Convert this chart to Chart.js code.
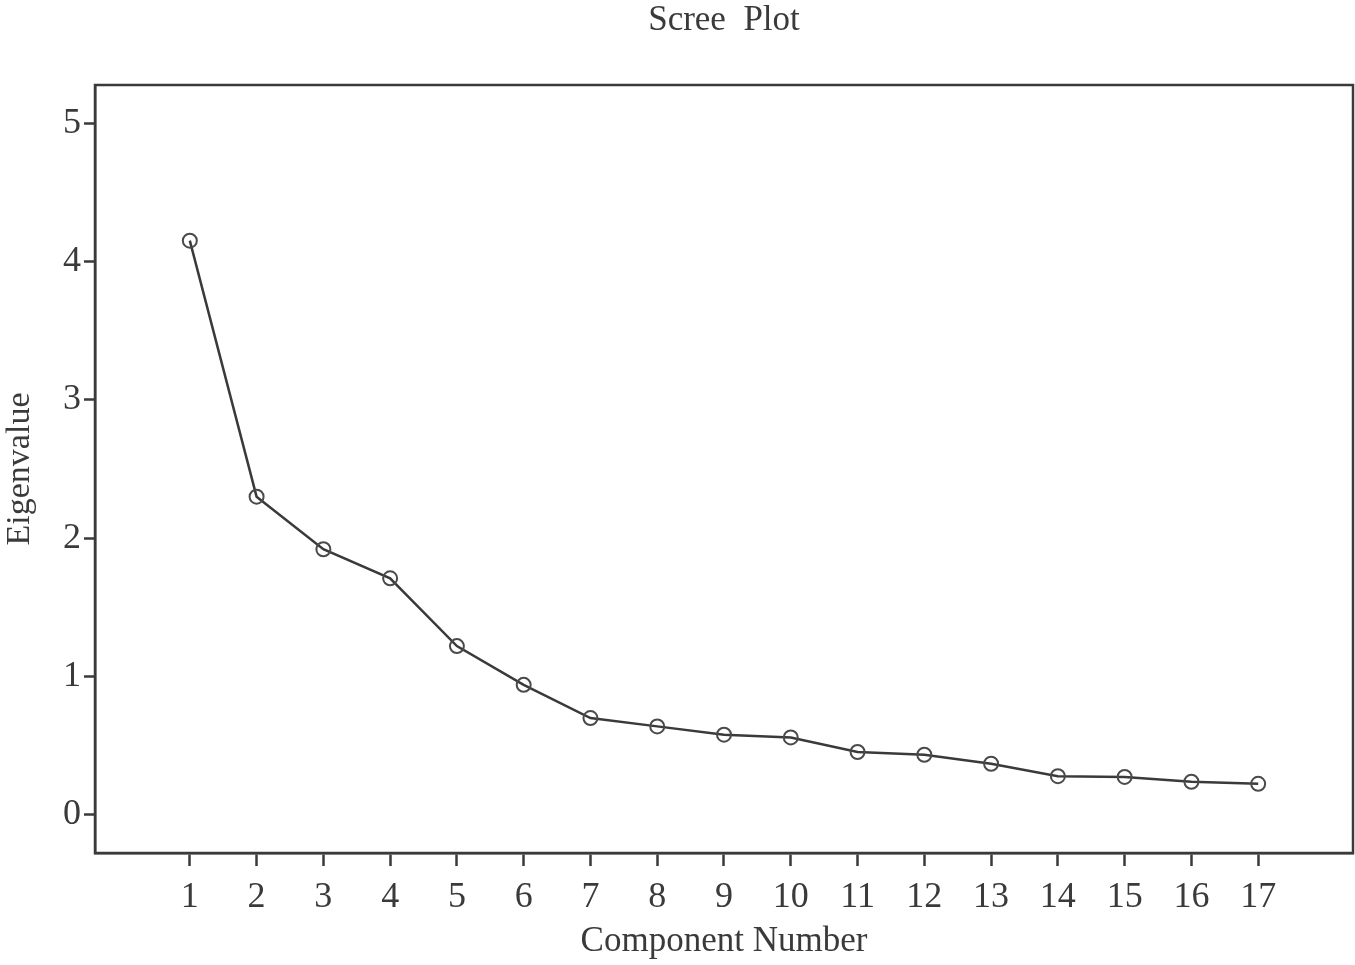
<!DOCTYPE html>
<html>
<head>
<meta charset="utf-8">
<script src="https://cdn.jsdelivr.net/npm/chart.js@4/dist/chart.umd.min.js"></script>
<style>
  html, body { margin: 0; padding: 0; background: #fff; }
  #wrap { width: 1355px; height: 965px; }
</style>
</head>
<body>
<div id="wrap"><canvas id="scree"></canvas></div>
<script>
// component numbers and eigenvalues
const components = [1, 2, 3, 4, 5, 6, 7, 8, 9, 10, 11, 12, 13, 14, 15, 16, 17];
const eigenvalues = [4.15, 2.30, 1.92, 1.71, 1.22, 0.94, 0.70, 0.64, 0.58, 0.56, 0.455, 0.435, 0.37, 0.28, 0.275, 0.24, 0.225];
const yTickValues = [0, 1, 2, 3, 4, 5];

const INK = '#3a3a3a';
const SERIF = '"Liberation Serif", "DejaVu Serif", serif';

// draws the closed frame around the plot area
const frameBox = {
  id: 'frameBox',
  afterDraw(chart) {
    const { ctx, chartArea: a } = chart;
    ctx.save();
    ctx.strokeStyle = INK;
    ctx.lineWidth = 2.5;
    ctx.strokeRect(a.left, a.top, a.right - a.left, a.bottom - a.top);
    ctx.restore();
  },
};

const ctx = document.getElementById('scree').getContext('2d');
new Chart(ctx, {
  type: 'line',
  data: {
    datasets: [{
      label: 'Eigenvalue',
      data: components.map((c, i) => ({ x: c, y: eigenvalues[i] })),
      borderColor: INK,
      borderWidth: 2.5,
      pointRadius: 7,
      pointBorderWidth: 2,
      pointBackgroundColor: 'rgba(255,255,255,0)',
      pointBorderColor: '#4a4a4a',
      tension: 0,
    }],
  },
  options: {
    responsive: true,
    maintainAspectRatio: false,
    animation: false,
    layout: { autoPadding: false, padding: { right: 2, bottom: 2, left: 0, top: 0 } },
    plugins: {
      legend: { display: false },
      tooltip: { enabled: false },
      title: {
        display: true,
        fullSize: false,
        text: 'Scree  Plot',
        color: INK,
        font: { family: SERIF, size: 35, weight: 'normal' },
        padding: { top: 0, bottom: 43 },
      },
    },
    scales: {
      x: {
        type: 'linear',
        min: -0.42,
        max: 18.42,
        afterBuildTicks: s => { s.ticks = components.map(v => ({ value: v })); },
        afterFit: s => { s.height = 110; },
        ticks: {
          color: INK,
          font: { family: SERIF, size: 36 },
          padding: 10,
          autoSkip: false,
          maxRotation: 0,
        },
        grid: { drawOnChartArea: false, drawTicks: true, tickLength: 13, tickWidth: 2.5, color: INK },
        border: { display: true, color: INK, width: 2.5 },
        title: {
          display: true,
          text: 'Component Number',
          color: INK,
          font: { family: SERIF, size: 35 },
          padding: { top: 0, bottom: 0 },
        },
      },
      y: {
        type: 'linear',
        min: -0.275,
        max: 5.275,
        afterBuildTicks: s => { s.ticks = yTickValues.map(v => ({ value: v })); },
        afterFit: s => { s.width = 95; },
        ticks: {
          color: INK,
          font: { family: SERIF, size: 36 },
          padding: 3,
        },
        grid: { drawOnChartArea: false, drawTicks: true, tickLength: 11, tickWidth: 2.5, color: INK },
        border: { display: true, color: INK, width: 2.5 },
        title: {
          display: true,
          text: 'Eigenvalue',
          color: INK,
          font: { family: SERIF, size: 34 },
          padding: { top: 0, bottom: 0 },
        },
      },
    },
  },
  plugins: [frameBox],
});
</script>
</body>
</html>
